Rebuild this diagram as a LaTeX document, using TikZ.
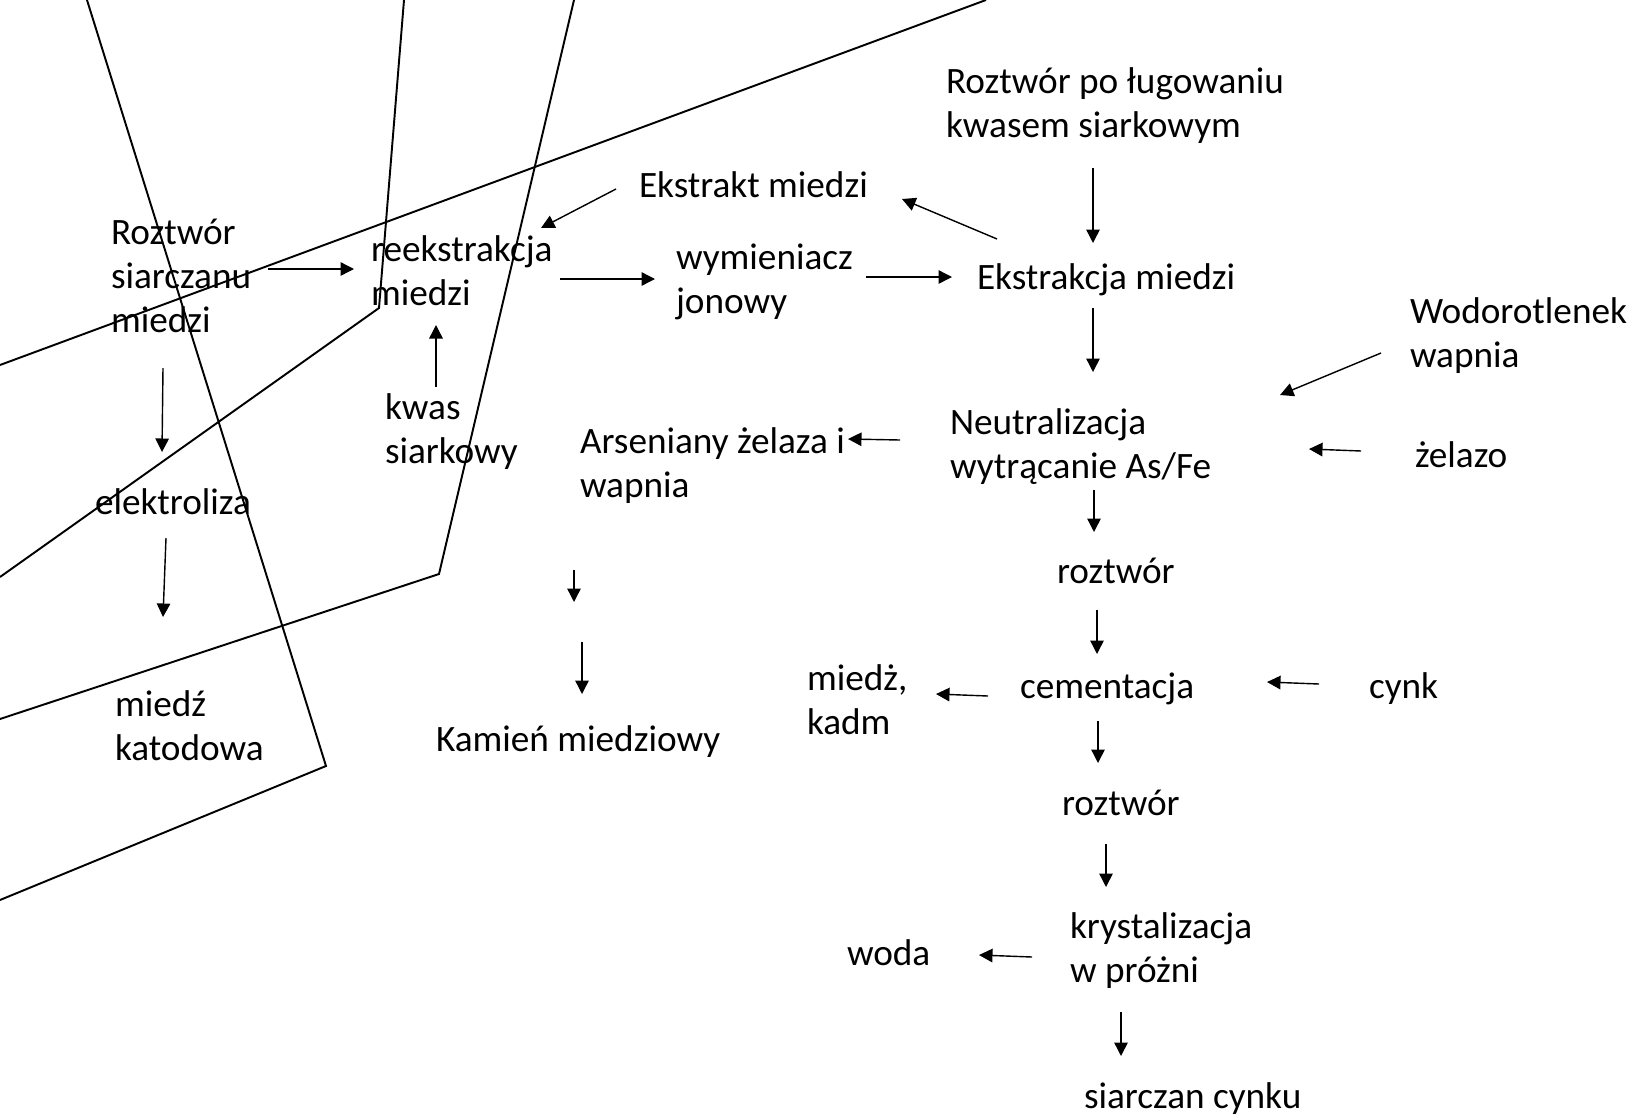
\documentclass[tikz,border=0pt]{standalone}
\usepackage{fontspec}
\setmainfont{Carlito}
\usetikzlibrary{arrows.meta}
\tikzset{
	lab/.style={anchor=base west, inner sep=0, outer sep=0},
	flow/.style={-{Triangle[length=0.27cm,width=0.27cm]}, line width=0.8pt},
	frame/.style={line width=1.1pt, line join=miter}
}
\newcommand{\rows}[1]{\begin{tabular}[t]{@{}l@{}}#1\end{tabular}}

\begin{document}
\begin{tikzpicture}[x=0.02cm, y=-0.02cm, font=\fontsize{21.2}{25.3}\selectfont]
	\useasboundingbox (0,0) rectangle (1638,1119);
	
	% outlines over the left part
	\draw[frame] (87,0) -- (326,766) -- (0,900);
	\draw[frame] (404,0) -- (379,308) -- (0,577);
	\draw[frame] (574,0) -- (439,574) -- (0,719);
	\draw[frame] (0,365) -- (986,0);
	
	\node[lab] (rsm) at (111,244) {\rows{Roztwór\\ siarczanu\\ miedzi}};
	\node[lab] (reek) at (371,261) {\rows{reekstrakcja\\ miedzi}};
	\node[lab] (ekstrakt) at (639,197) {Ekstrakt miedzi};
	\node[lab] (lug) at (946,93) {\rows{Roztwór po ługowaniu\\ kwasem siarkowym}};
	\node[lab] (wym) at (676,269) {\rows{wymieniacz\\ jonowy}};
	\node[lab] (ekstr) at (977,289) {Ekstrakcja miedzi};
	\node[lab] (wod) at (1410,323) {\rows{Wodorotlenek\\ wapnia}};
	\node[lab] (kwas) at (385,419) {\rows{kwas\\ siarkowy}};
	\node[lab] (ars) at (580,453) {\rows{Arseniany żelaza i\\ wapnia}};
	\node[lab] (neut) at (950,434) {\rows{Neutralizacja\\ wytrącanie As/Fe}};
	\node[lab] (fe) at (1415,467) {żelazo};
	\node[lab] (elek) at (95,514) {elektroliza};
	\node[lab] (roz1) at (1057,583) {roztwór};
	\node[lab] (cukd) at (807,690) {\rows{miedż,\\ kadm}};
	\node[lab] (cem) at (1020,698) {cementacja};
	\node[lab] (zn) at (1369,698) {cynk};
	\node[lab] (kat) at (115,716) {\rows{miedź\\ katodowa}};
	\node[lab] (kam) at (436,751) {Kamień miedziowy};
	\node[lab] (roz2) at (1062,815) {roztwór};
	\node[lab] (kryst) at (1070,938) {\rows{krystalizacja\\ w próżni}};
	\node[lab] (woda) at (847,965) {woda};
	\node[lab] (znso) at (1084,1108) {siarczan cynku};
	
	% arrow ends
	\coordinate (rsm-r) at (268,269);   \coordinate (reek-l) at (354,269);
	\coordinate (ekstrakt-l) at (616,189); \coordinate (reek-t) at (541,228);
	\coordinate (reek-r) at (560,279);  \coordinate (wym-l) at (655,279);
	\coordinate (wym-r) at (866,277);   \coordinate (ekstr-l) at (952,277);
	\coordinate (ekstr-t) at (997,239); \coordinate (ekstrakt-r) at (902,199);
	\coordinate (lug-b) at (1093,168);  \coordinate (ekstr-tt) at (1093,243);
	\coordinate (ekstr-b) at (1093,308); \coordinate (neut-t) at (1093,372);
	\coordinate (kwas-t) at (436,387);  \coordinate (reek-b) at (436,325);
	\coordinate (wod-l) at (1381,353);  \coordinate (neut-tr) at (1280,395);
	\coordinate (fe-l) at (1361,451);   \coordinate (neut-r) at (1309,449);
	\coordinate (neut-l) at (900,440);  \coordinate (ars-r) at (848,439);
	\coordinate (neut-b) at (1094,490); \coordinate (roz1-t) at (1094,532);
	\coordinate (roz1-b) at (1097,610); \coordinate (cem-t) at (1097,654);
	\coordinate (cem-l) at (988,696);   \coordinate (cukd-r) at (936,694);
	\coordinate (zn-l) at (1319,684);   \coordinate (cem-r) at (1267,682);
	\coordinate (cem-b) at (1098,721);  \coordinate (roz2-t) at (1098,763);
	\coordinate (roz2-b) at (1106,844); \coordinate (kryst-t) at (1106,887);
	\coordinate (kryst-l) at (1032,957); \coordinate (woda-r) at (979,955);
	\coordinate (kryst-b) at (1121,1012); \coordinate (znso-t) at (1121,1056);
	\coordinate (rsm-b) at (163,368);   \coordinate (elek-t) at (162,452);
	\coordinate (elek-b) at (166,538);  \coordinate (kat-t) at (163,617);
	\coordinate (ars-b) at (574,570);   \coordinate (ars-bb) at (574,602);
	\coordinate (kam-tt) at (582,642);  \coordinate (kam-t) at (582,694);
	
	\path[flow] (rsm-r) edge (reek-l);
	\path[flow] (ekstrakt-l) edge (reek-t);
	\path[flow] (reek-r) edge (wym-l);
	\path[flow] (wym-r) edge (ekstr-l);
	\path[flow] (ekstr-t) edge (ekstrakt-r);
	\path[flow] (lug-b) edge (ekstr-tt);
	\path[flow] (ekstr-b) edge (neut-t);
	\path[flow] (kwas-t) edge (reek-b);
	\path[flow] (wod-l) edge (neut-tr);
	\path[flow] (fe-l) edge (neut-r);
	\path[flow] (neut-l) edge (ars-r);
	\path[flow] (neut-b) edge (roz1-t);
	\path[flow] (roz1-b) edge (cem-t);
	\path[flow] (cem-l) edge (cukd-r);
	\path[flow] (zn-l) edge (cem-r);
	\path[flow] (cem-b) edge (roz2-t);
	\path[flow] (roz2-b) edge (kryst-t);
	\path[flow] (kryst-l) edge (woda-r);
	\path[flow] (kryst-b) edge (znso-t);
	\path[flow] (rsm-b) edge (elek-t);
	\path[flow] (elek-b) edge (kat-t);
	\path[flow] (ars-b) edge (ars-bb);
	\path[flow] (kam-tt) edge (kam-t);
\end{tikzpicture}
\end{document}
